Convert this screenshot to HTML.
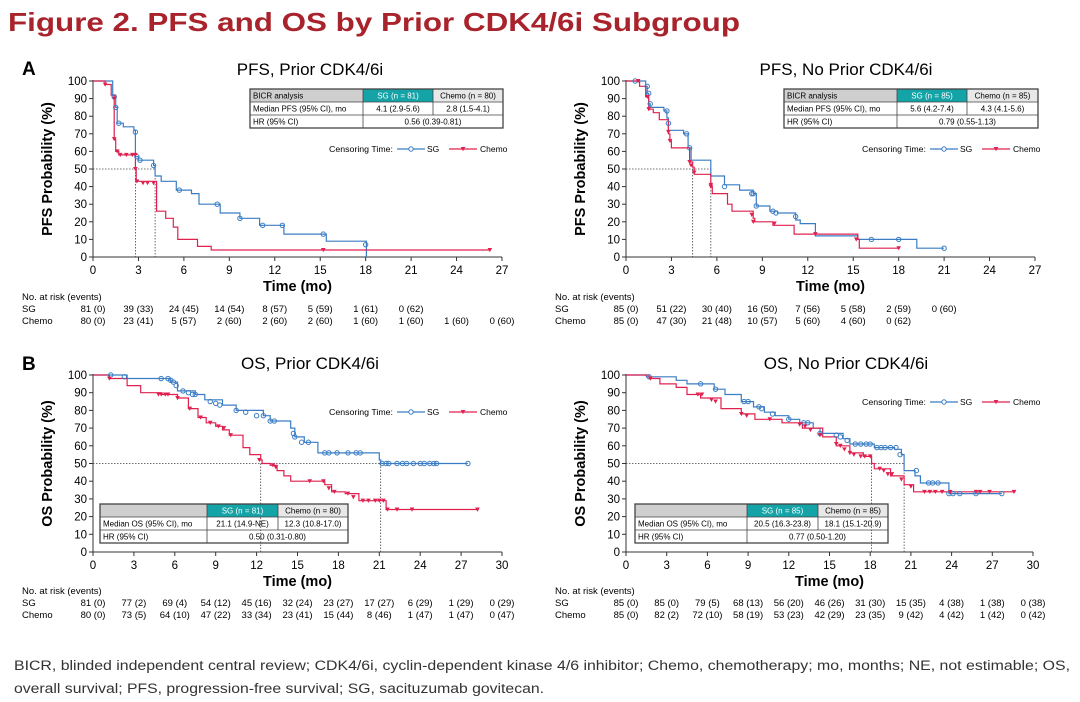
<!DOCTYPE html>
<html><head><meta charset="utf-8"><style>
html,body{margin:0;padding:0;background:#fff;width:1080px;height:702px;overflow:hidden}
svg{display:block;font-family:"Liberation Sans",Arial,sans-serif}
</style></head><body>
<svg id="s" width="1080" height="702" viewBox="0 0 1080 702" xmlns="http://www.w3.org/2000/svg">
<text x="8" y="31" font-size="26" font-weight="bold" fill="#a8232b" textLength="732" lengthAdjust="spacingAndGlyphs">Figure 2. PFS and OS by Prior CDK4/6i Subgroup</text>
<text x="22" y="75" font-size="19" font-weight="bold">A</text>
<text x="22" y="370" font-size="19" font-weight="bold">B</text>
<text x="14" y="670" font-size="13.5" fill="#333" textLength="1056" lengthAdjust="spacingAndGlyphs">BICR, blinded independent central review; CDK4/6i, cyclin-dependent kinase 4/6 inhibitor; Chemo, chemotherapy; mo, months; NE, not estimable; OS,</text>
<text x="14" y="693" font-size="13.5" fill="#333" textLength="530" lengthAdjust="spacingAndGlyphs">overall survival; PFS, progression-free survival; SG, sacituzumab govitecan.</text>
<g id="g"></g>
</svg>
<script>
var SG='#3a7dc4',CH='#e0204f',out='';
function panel(P){
 var x0=P.x0,x1=P.x1,yt=P.yt,yb=P.yb,xm=P.xmax;
 function X(t){return x0+(x1-x0)*t/xm}
 function Y(s){return yb-(yb-yt)*s/100}
 var o='';
 // title
 o+='<text x="'+P.tx+'" y="'+(yt-6)+'" font-size="17" text-anchor="middle">'+P.title+'</text>';
 // axes
 o+='<line x1="'+x0+'" y1="'+(yt-1)+'" x2="'+x0+'" y2="'+yb+'" stroke="#333"/>';
 o+='<line x1="'+x0+'" y1="'+yb+'" x2="'+x1+'" y2="'+yb+'" stroke="#333"/>';
 for(var v=0;v<=100;v+=10){var y=Y(v);o+='<line x1="'+(x0-4)+'" y1="'+y+'" x2="'+x0+'" y2="'+y+'" stroke="#333"/><text x="'+(x0-6)+'" y="'+(y+4)+'" font-size="11.5" text-anchor="end">'+v+'</text>';}
 for(var t=0;t<=xm;t+=3){var x=X(t);o+='<line x1="'+x+'" y1="'+yb+'" x2="'+x+'" y2="'+(yb+4)+'" stroke="#333"/><text x="'+x+'" y="'+(yb+17)+'" font-size="11.5" text-anchor="middle">'+t+'</text>';}
 o+='<text x="'+((x0+x1)/2)+'" y="'+(yb+34)+'" font-size="14.5" font-weight="bold" text-anchor="middle">Time (mo)</text>';
 var cy=(yt+yb)/2;
 o+='<text transform="translate('+(x0-41)+','+cy+') rotate(-90)" font-size="14.5" font-weight="bold" text-anchor="middle">'+P.ylab+'</text>';
 // median lines
 o+='<path d="M'+x0+','+Y(50)+'H'+X(P.med[1])+'M'+X(P.med[0])+','+Y(50)+'V'+yb+'M'+X(P.med[1])+','+Y(50)+'V'+yb+'" stroke="#444" stroke-width="0.8" stroke-dasharray="1.5,1.5" fill="none"/>';
 function curve(pts,end,col){var d='M'+X(0)+','+Y(100),s=100;pts.forEach(function(p){d+='H'+X(p[0]).toFixed(1)+'V'+Y(p[1]).toFixed(1);s=p[1]});d+='H'+X(end).toFixed(1);return '<path d="'+d+'" stroke="'+col+'" stroke-width="1.2" fill="none"/>'}
 o+=curve(P.sg,P.sgEnd,SG);o+=curve(P.ch,P.chEnd,CH);
 P.sgc.forEach(function(c){o+='<circle cx="'+X(c[0])+'" cy="'+Y(c[1])+'" r="2.2" fill="none" stroke="'+SG+'" stroke-width="1"/>'});
 P.chc.forEach(function(c){var x=X(c[0]),y=Y(c[1]);o+='<path d="M'+(x-2.3)+','+(y-2)+'H'+(x+2.3)+'L'+x+','+(y+2.2)+'Z" fill="'+CH+'"/>'});
 // legend
 var lx=P.lx,ly=P.ly;
 o+='<text x="'+lx+'" y="'+(ly+3)+'" font-size="8" textLength="64" lengthAdjust="spacingAndGlyphs">Censoring Time:</text>';
 o+='<line x1="'+(lx+68)+'" y1="'+ly+'" x2="'+(lx+96)+'" y2="'+ly+'" stroke="'+SG+'" stroke-width="1.2"/><circle cx="'+(lx+82)+'" cy="'+ly+'" r="2.2" fill="#fff" stroke="'+SG+'"/><text x="'+(lx+98)+'" y="'+(ly+3)+'" font-size="8.5">SG</text>';
 o+='<line x1="'+(lx+120)+'" y1="'+ly+'" x2="'+(lx+148)+'" y2="'+ly+'" stroke="'+CH+'" stroke-width="1.2"/><path d="M'+(lx+131.7)+','+(ly-2)+'h4.6l-2.3,4.2z" fill="'+CH+'"/><text x="'+(lx+151)+'" y="'+(ly+3)+'" font-size="8.5">Chemo</text>';
 // table
 var T=P.tb,c=T.c,ty=T.y,h=13;
 o+='<rect x="'+c[0]+'" y="'+ty+'" width="'+(c[1]-c[0])+'" height="'+h+'" fill="#cfcfcf"/>';
 o+='<rect x="'+c[1]+'" y="'+ty+'" width="'+(c[2]-c[1])+'" height="'+h+'" fill="#14a3a6"/>';
 o+='<rect x="'+c[2]+'" y="'+ty+'" width="'+(c[3]-c[2])+'" height="'+h+'" fill="#e8e8e8"/>';
 o+='<rect x="'+c[0]+'" y="'+ty+'" width="'+(c[3]-c[0])+'" height="'+(3*h)+'" fill="none" stroke="#444" stroke-width="1.3"/>';
 o+='<path d="M'+c[0]+','+(ty+h)+'H'+c[3]+'M'+c[0]+','+(ty+2*h)+'H'+c[3]+'M'+c[1]+','+ty+'V'+(ty+3*h)+'M'+c[2]+','+ty+'V'+(ty+2*h)+'" stroke="#444" stroke-width="0.8"/>';
 var fs=' font-size="8"';
 o+='<text x="'+(c[0]+3)+'" y="'+(ty+9.5)+'"'+fs+'>'+T.r[0]+'</text>';
 o+='<text x="'+((c[1]+c[2])/2)+'" y="'+(ty+9.5)+'"'+fs+' fill="#fff" text-anchor="middle">'+T.r[1]+'</text>';
 o+='<text x="'+((c[2]+c[3])/2)+'" y="'+(ty+9.5)+'"'+fs+' text-anchor="middle">'+T.r[2]+'</text>';
 o+='<text x="'+(c[0]+3)+'" y="'+(ty+h+9.5)+'"'+fs+'>'+T.r[3]+'</text>';
 o+='<text x="'+((c[1]+c[2])/2)+'" y="'+(ty+h+9.5)+'"'+fs+' text-anchor="middle">'+T.r[4]+'</text>';
 o+='<text x="'+((c[2]+c[3])/2)+'" y="'+(ty+h+9.5)+'"'+fs+' text-anchor="middle">'+T.r[5]+'</text>';
 o+='<text x="'+(c[0]+3)+'" y="'+(ty+2*h+9.5)+'"'+fs+'>HR (95% CI)</text>';
 o+='<text x="'+((c[1]+c[3])/2)+'" y="'+(ty+2*h+9.5)+'"'+fs+' text-anchor="middle">'+T.r[6]+'</text>';
 // at risk
 var ry=P.ry,rl=P.rl;
 o+='<text x="'+rl+'" y="'+ry+'" font-size="9.5">No. at risk (events)</text>';
 o+='<text x="'+rl+'" y="'+(ry+12)+'" font-size="9.5">SG</text><text x="'+rl+'" y="'+(ry+24)+'" font-size="9.5">Chemo</text>';
 P.rs.forEach(function(v,i){o+='<text x="'+X(3*i)+'" y="'+(ry+12)+'" font-size="9.5" text-anchor="middle">'+v+'</text>'});
 P.rc.forEach(function(v,i){o+='<text x="'+X(3*i)+'" y="'+(ry+24)+'" font-size="9.5" text-anchor="middle">'+v+'</text>'});
 out+=o;
}
panel({x0:93,x1:502,yt:81,yb:257,xmax:27,tx:310,title:'PFS, Prior CDK4/6i',ylab:'PFS Probability (%)',med:[2.8,4.1],
 sg:[[1.3,92],[1.5,85],[1.6,76],[2,74],[2.7,72],[2.8,57],[3,55],[4,52],[4.1,46],[4.5,43],[5.5,38],[6.5,36],[7,30],[8.4,25],[9.7,22],[11,18],[12.6,13],[15.4,9],[18.05,0]],sgEnd:18.05,
 sgc:[[1.4,91],[1.5,85],[1.7,76],[2.8,71],[2.9,57],[3.1,55],[4,52],[5.7,38],[8.2,30],[9.7,22],[11.2,18],[12.5,18],[15.2,13],[18,7]],
 ch:[[0.8,98],[1.2,92],[1.4,67],[1.5,60],[1.7,58],[2.8,50],[2.85,43],[4.1,43],[4.2,26],[4.8,22],[5.3,17],[5.6,10],[6.9,6],[7.8,4]],chEnd:26.2,
 chc:[[0.8,98],[1.4,90],[1.4,67],[1.6,60],[1.8,58],[2.2,58],[2.6,58],[2.8,58],[2.8,50],[2.9,43],[3.3,42],[3.6,42],[4,42],[15.2,4],[26.2,4]],
 lx:329,ly:149,tb:{c:[250,363,433,503],y:89,r:['BICR analysis','SG (n = 81)','Chemo (n = 80)','Median PFS (95% CI), mo','4.1 (2.9-5.6)','2.8 (1.5-4.1)','0.56 (0.39-0.81)']},
 ry:300,rl:22,rs:['81 (0)','39 (33)','24 (45)','14 (54)','8 (57)','5 (59)','1 (61)','0 (62)'],rc:['80 (0)','23 (41)','5 (57)','2 (60)','2 (60)','2 (60)','1 (60)','1 (60)','1 (60)','0 (60)']});
panel({x0:626,x1:1035,yt:81,yb:257,xmax:27,tx:846,title:'PFS, No Prior CDK4/6i',ylab:'PFS Probability (%)',med:[4.4,5.6],
 sg:[[1.3,97],[1.4,93],[1.5,87],[1.6,85],[2.5,83],[2.7,79],[2.8,72],[3.8,70],[4.1,62],[4.3,55],[5.6,46],[6.5,41],[7.5,38],[8.4,36],[8.6,29],[9.5,26],[10,25],[11.2,21],[11.5,19],[12.5,12],[15.3,10],[19.2,5]],sgEnd:21,
 sgc:[[0.6,100],[1.4,97],[1.5,93],[1.6,87],[2.7,83],[2.8,76],[4,70],[4.2,62],[6.5,40],[8.3,36],[8.4,36],[8.6,29],[9.7,26],[9.9,25],[11.2,23],[16.2,10],[18,10],[21,5]],
 ch:[[0.9,97],[1.3,91],[1.5,84],[1.8,82],[2.2,78],[2.8,70],[2.9,66],[3,62],[4.2,54],[4.4,51],[4.5,47],[5.6,40],[5.7,36],[6.7,30],[7,26],[8.4,22],[8.5,20],[9.7,18],[11.1,13],[15.3,10],[15.4,5]],chEnd:18,
 chc:[[0.8,100],[1.4,91],[1.5,84],[2.8,71],[2.9,66],[4.2,54],[4.3,52],[4.5,48],[5.6,41],[5.6,40],[8.3,24],[8.4,20],[9.8,19],[12.5,13],[15.2,10],[18,5]],
 lx:862,ly:149,tb:{c:[784,897,967,1038],y:89,r:['BICR analysis','SG (n = 85)','Chemo (n = 85)','Median PFS (95% CI), mo','5.6 (4.2-7.4)','4.3 (4.1-5.6)','0.79 (0.55-1.13)']},
 ry:300,rl:555,rs:['85 (0)','51 (22)','30 (40)','16 (50)','7 (56)','5 (58)','2 (59)','0 (60)'],rc:['85 (0)','47 (30)','21 (48)','10 (57)','5 (60)','4 (60)','0 (62)']});
var sgcB=[[1.3,100],[2.3,99],[5,98],[5.5,98],[5.7,97],[5.9,96],[6.1,94],[6.6,91],[7,90],[7.3,89],[7.5,89],[8.6,85],[9,84],[9.3,83],[10.5,80],[11.2,79],[12,77],[12.5,77],[13,74],[13.3,74],[14.7,67],[14.8,65],[15.3,62],[15.8,62],[17,56],[17.3,56],[17.9,56],[18.7,56],[19.3,56],[19.6,56],[21.2,50],[21.5,50],[21.7,50],[22.3,50],[22.7,50],[23,50],[23.5,50],[24,50],[24.3,50],[24.7,50],[25,50],[25.2,50],[27.5,50]];
panel({x0:93,x1:502,yt:375,yb:552,xmax:30,tx:310,title:'OS, Prior CDK4/6i',ylab:'OS Probability (%)',med:[12.3,21.1],
 sg:[[2.5,98],[5.7,96],[6.2,91],[7.5,89],[8.2,86],[9.5,83],[10.5,80],[12.5,77],[13,74],[14.5,70],[14.8,65],[15.5,62],[16.5,56],[21,52],[21.1,50]],sgEnd:27.5,sgc:sgcB,
 ch:[[1.2,98],[2.5,94],[3.5,90],[5,89],[6.2,87],[7,81],[7.7,76],[8.3,73],[9,71],[9.5,69],[10,66],[11,59],[11.5,55],[12.3,52],[12.4,50],[13,49],[13.5,46],[14,43],[14.5,40],[17,38],[17.5,34],[18.5,33],[19.5,29],[21.5,24]],chEnd:28.3,
 chc:[[1.2,98],[4.8,89],[5,89],[5.3,89],[5.5,89],[6.2,87],[7.1,81],[7.9,76],[8.6,73],[9.2,71],[9.6,70],[10.1,66],[12.2,52],[13.2,49],[13.4,48],[15.9,40],[16.9,40],[17.3,36],[17.7,34],[18.7,33],[19.1,31],[19.8,29],[20.2,29],[20.7,29],[21,29],[21.3,29],[21.6,24],[22.3,24],[23.4,24],[28.2,24]],
 lx:329,ly:412,tb:{c:[100,207,278,348],y:504,r:['','SG (n = 81)','Chemo (n = 80)','Median OS (95% CI), mo','21.1 (14.9-NE)','12.3 (10.8-17.0)','0.50 (0.31-0.80)']},
 ry:594,rl:22,rs:['81 (0)','77 (2)','69 (4)','54 (12)','45 (16)','32 (24)','23 (27)','17 (27)','6 (29)','1 (29)','0 (29)'],rc:['80 (0)','73 (5)','64 (10)','47 (22)','33 (34)','23 (41)','15 (44)','8 (46)','1 (47)','1 (47)','0 (47)']});
panel({x0:626,x1:1033,yt:375,yb:552,xmax:30,tx:846,title:'OS, No Prior CDK4/6i',ylab:'OS Probability (%)',med:[18.1,20.5],
 sg:[[1.5,99],[3.7,97],[4.5,95],[6.5,92],[7.3,89],[8.5,85],[9.4,82],[10.2,79],[11,77],[12,75],[12.8,73],[13.8,70],[14.3,67],[16,64],[16.5,61],[18.3,59],[19.8,58],[20.3,55],[20.5,46],[21.3,43],[21.7,39],[23.8,33]],sgEnd:27.7,
 sgc:[[1.7,99],[5.5,95],[6.6,92],[8.7,85],[9,85],[9.8,82],[10,81],[10.8,78],[12,75],[13.1,73],[13.4,73],[14.3,67],[15.5,66],[15.8,65],[16.3,63],[16.9,61],[17.3,61],[17.7,61],[18,61],[18.5,59],[18.8,59],[19.1,59],[19.5,59],[19.9,59],[20.2,55],[21.4,46],[22.3,39],[22.6,39],[23,39],[23.8,33],[24.1,33],[24.6,33],[25.8,33],[27.7,33]],
 ch:[[1.7,98],[2.5,95],[3.7,93],[4.5,89],[5.5,87],[7,81],[8.5,78],[9.5,75],[11.5,73],[13,70],[14.5,65],[15.5,60],[16.5,56],[17.5,54],[18.1,50],[18.3,47],[19.5,43],[20.5,38],[21.2,34]],chEnd:28.7,
 chc:[[1.8,98],[5.3,89],[5.6,89],[6.3,86],[6.6,85],[8.5,78],[8.9,77],[10.6,75],[12.8,72],[13.2,71],[13.6,69],[14.3,66],[15.5,61],[15.8,60],[16.1,58],[16.5,56],[16.8,55],[17.3,54],[17.6,54],[18,54],[18.7,47],[19,46],[19.3,44],[19.6,44],[20.3,41],[21,37],[22,34],[22.4,34],[22.8,34],[23.3,34],[23.9,34],[25.8,34],[26.1,34],[26.8,34],[28.6,34]],
 lx:862,ly:402,tb:{c:[635,747,818,888],y:504,r:['','SG (n = 85)','Chemo (n = 85)','Median OS (95% CI), mo','20.5 (16.3-23.8)','18.1 (15.1-20.9)','0.77 (0.50-1.20)']},
 ry:594,rl:555,rs:['85 (0)','85 (0)','79 (5)','68 (13)','56 (20)','46 (26)','31 (30)','15 (35)','4 (38)','1 (38)','0 (38)'],rc:['85 (0)','82 (2)','72 (10)','58 (19)','53 (23)','42 (29)','23 (35)','9 (42)','4 (42)','1 (42)','0 (42)']});
document.getElementById('g').innerHTML=out;
</script>
</body></html>
